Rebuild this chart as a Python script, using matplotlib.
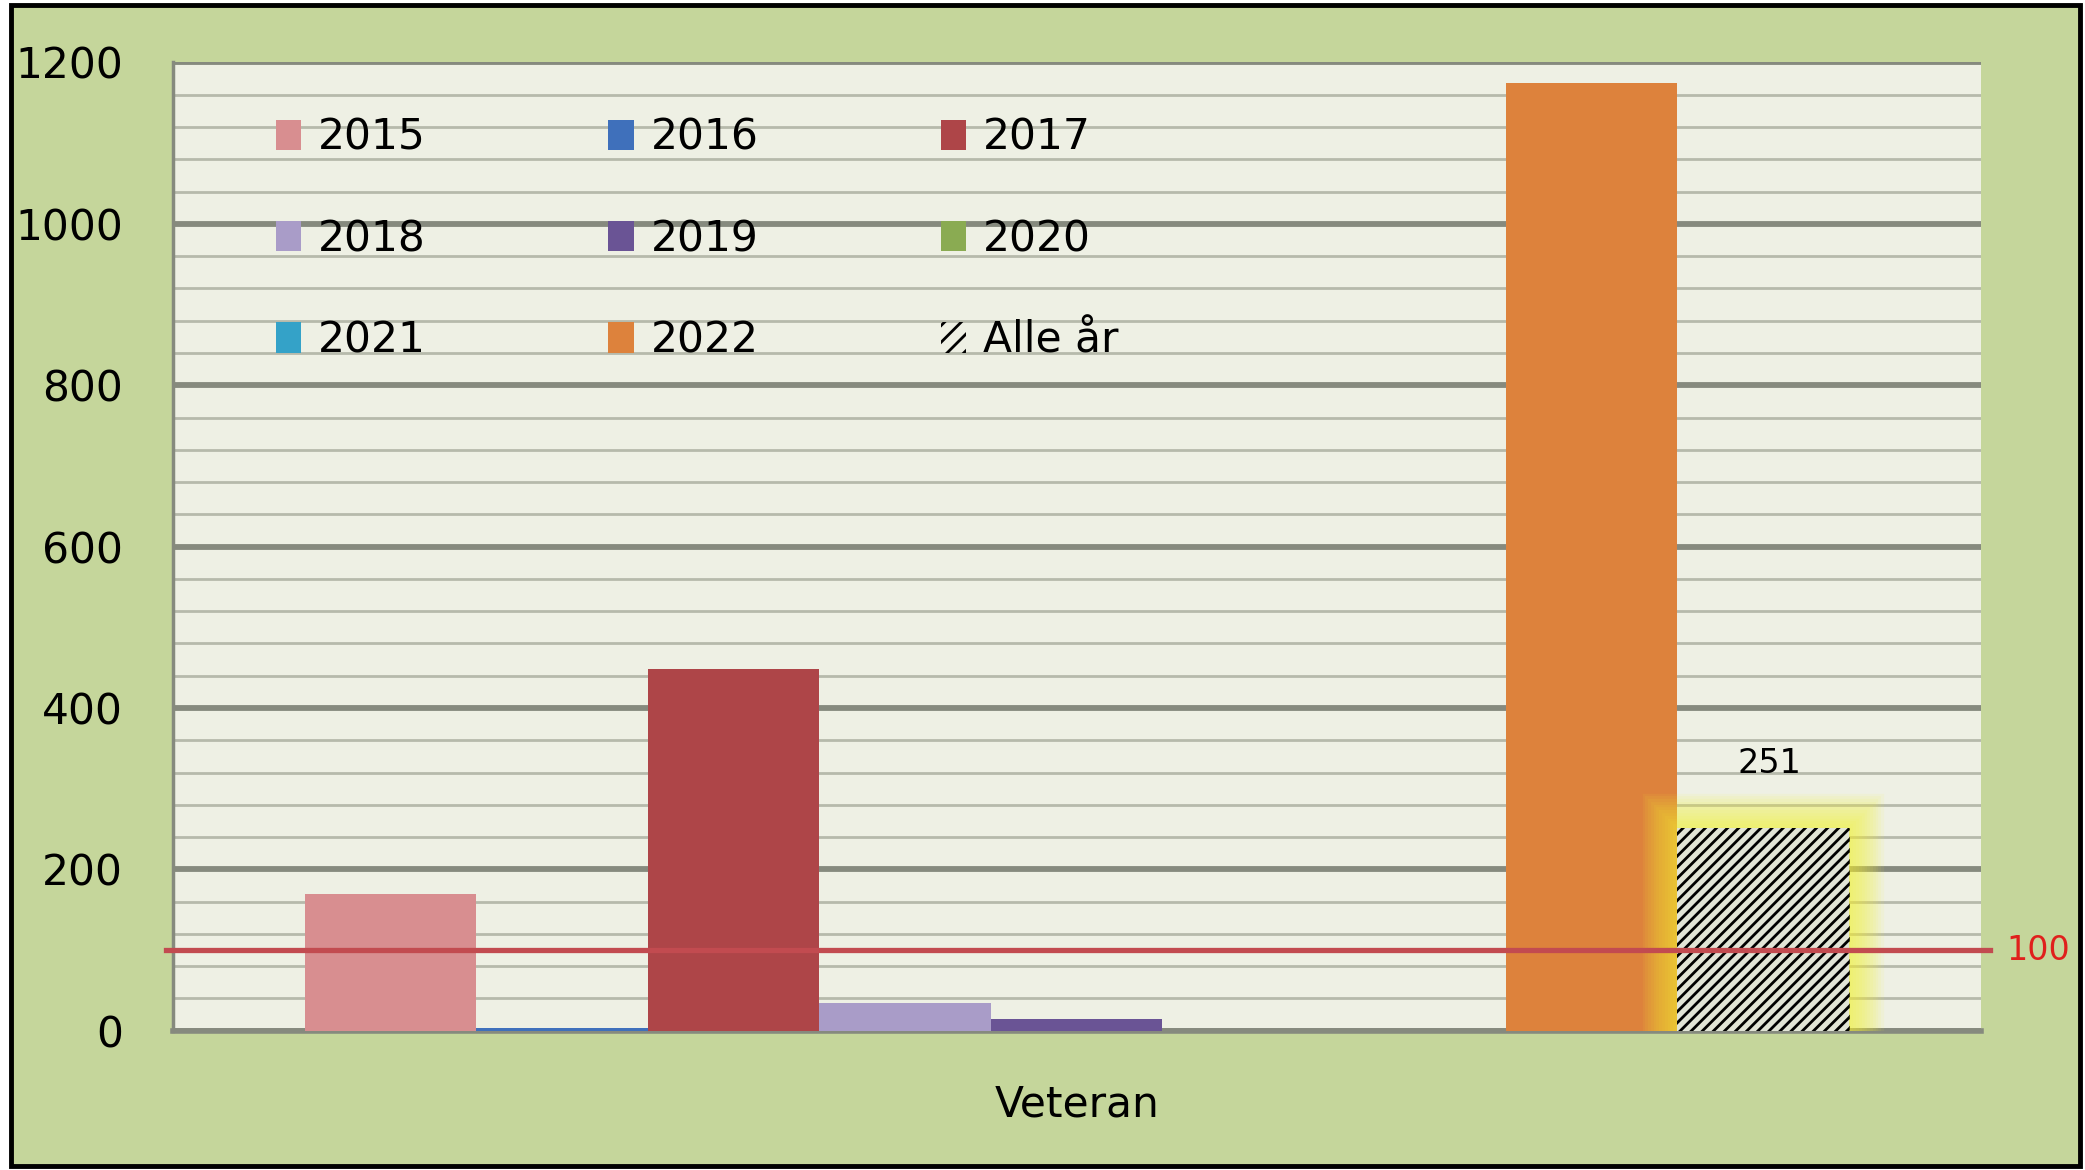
import matplotlib
matplotlib.use("Agg")
import matplotlib.pyplot as plt
import matplotlib.patheffects as pe
from matplotlib.patches import Rectangle, Patch
from matplotlib.ticker import MultipleLocator
import numpy as np

# ---- data ----
category = ["Veteran"]
series_names = ["2015", "2016", "2017", "2018", "2019", "2020", "2021", "2022", "Alle år"]
series_values = [170, 4, 448, 35, 15, 0, 0, 1175, 251]
series_colors = ["#d88e90", "#3f70bb", "#ae4548", "#a99cc8", "#6a5495",
                 "#8aab52", "#34a2c8", "#dd823c", "#e1e4d6"]
threshold = 100
threshold_label = "100"
y_ticks = [0, 200, 400, 600, 800, 1000, 1200]

plt.rcParams["font.family"] = ["DejaVu Sans"]
plt.rcParams["hatch.linewidth"] = 2.0

fig = plt.figure(figsize=(20.85, 11.7), dpi=100)
fig.patch.set_facecolor("white")
fig.patches.append(Rectangle((0.0055, 0.003), 0.992, 0.993, transform=fig.transFigure,
                             facecolor="#c5d69b", edgecolor="black", linewidth=3.5, zorder=-10))

ax = fig.add_axes([0.0829, 0.119, 0.867, 0.8276])
ax.set_facecolor("#eef0e4")

n = len(series_names)
total_w = 0.854
w = total_w / n
x0 = np.arange(len(category))
containers = []
for i, (name, val, col) in enumerate(zip(series_names, series_values, series_colors)):
    xpos = x0 - total_w / 2 + w * (i + 0.5)
    if name == "Alle år":
        glow = [pe.Stroke(linewidth=lw, foreground="#f6f034", alpha=0.075)
                for lw in range(50, 0, -4)]
        c = ax.bar(xpos, [val], width=w, color=col, edgecolor="black", linewidth=0,
                   hatch="///", label=name, zorder=3,
                   path_effects=glow + [pe.Normal()])
    else:
        c = ax.bar(xpos, [val], width=w, color=col, linewidth=0, label=name, zorder=3)
    containers.append(c)

# value label above the "Alle år" bar
last = containers[-1].patches[0]
ax.annotate(str(series_values[-1]), xy=(last.get_x() + last.get_width() / 2, last.get_height()),
            xytext=(5, 35), textcoords="offset points", ha="center", va="bottom",
            fontsize=24, color="black", zorder=6)

ax.set_xlim(-0.5, 0.5)
ax.set_ylim(0, 1200)
ax.set_yticks(y_ticks)
ax.yaxis.set_minor_locator(MultipleLocator(40))
ax.grid(which="major", axis="y", color="#868a7e", linewidth=4.2)
ax.grid(which="minor", axis="y", color="#b6baab", linewidth=2.0)
ax.set_axisbelow(True)
ax.tick_params(axis="y", which="both", length=0, labelsize=30.5, pad=36)
ax.set_xticks(x0, category)
ax.tick_params(axis="x", length=0, labelsize=30.5, pad=38)

for s in ["top", "right"]:
    ax.spines[s].set_visible(False)
ax.spines["left"].set_color("#868a7e")
ax.spines["left"].set_linewidth(2.5)
ax.spines["bottom"].set_color("#868a7e")
ax.spines["bottom"].set_linewidth(4.0)
ax.spines["bottom"].set_zorder(2.5)

ax.axhline(threshold, xmin=-0.004, xmax=1.005, color="#c24b50", linewidth=3.8, zorder=5, clip_on=False)
ax.text(1.032, threshold, threshold_label, transform=ax.get_yaxis_transform(),
        ha="center", va="center", fontsize=24, color="#e0201c")

# legend in row-major order (3 columns)
handles = [Patch(facecolor=c, edgecolor="none") for c in series_colors[:-1]]
handles.append(Patch(facecolor="none", edgecolor="black", linewidth=0, hatch="//"))
order = [0, 3, 6, 1, 4, 7, 2, 5, 8]
leg = ax.legend([handles[i] for i in order], [series_names[i] for i in order],
                ncol=3, loc="upper left", bbox_to_anchor=(0.057, 0.944), frameon=False,
                fontsize=30.5, handlelength=0.6, handleheight=0.72, handletextpad=0.4,
                columnspacing=4.3, labelspacing=1.40, borderpad=0, borderaxespad=0)

fig.savefig("out.png", dpi=100, facecolor=fig.get_facecolor())
